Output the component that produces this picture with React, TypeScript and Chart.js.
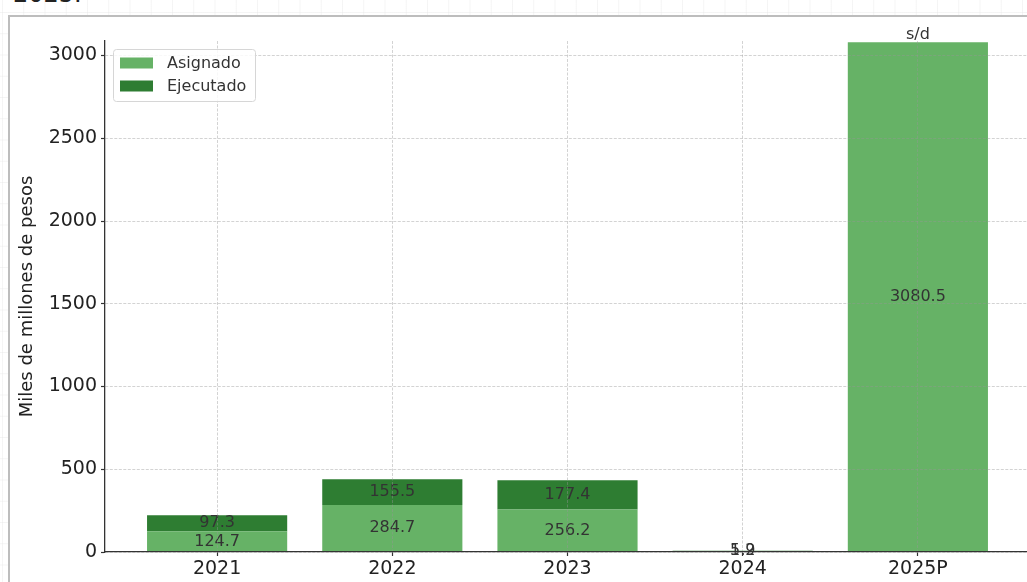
import React, { useEffect, useRef } from "react";
import { Chart, registerables } from "chart.js";

Chart.register(...registerables);

const categories = ["2021", "2022", "2023", "2024", "2025P"];
const asignado: number[] = [124.7, 284.7, 256.2, 5.9, 3080.5];
const ejecutado: (number | null)[] = [97.3, 155.5, 177.4, 1.2, null];
const yTickValues = [0, 500, 1000, 1500, 2000, 2500, 3000];
const seriesNames = ["Asignado", "Ejecutado"];
const seriesColors = ["#66b266", "#2e7d32"];
const missingLabel = "s/d";
const yTitle = "Miles de millones de pesos";
const headerText = "2025.";

const FONT = "'DejaVu Sans', sans-serif";

const valueLabelPlugin = {
  id: "valueLabels",
  afterDatasetsDraw(chart: any) {
    const ctx = chart.ctx;
    ctx.save();
    ctx.font = `16px ${FONT}`;
    ctx.fillStyle = "#333333";
    ctx.textAlign = "center";
    chart.data.datasets.forEach((ds: any, di: number) => {
      const meta = chart.getDatasetMeta(di);
      meta.data.forEach((el: any, i: number) => {
        const raw = ds.data[i];
        if (raw.y === null || raw.y === undefined) return;
        const p = el.getProps(["x", "y", "base"], true);
        ctx.textBaseline = "middle";
        ctx.fillText(raw.y.toFixed(1), p.x, (p.y + p.base) / 2);
      });
    });
    const first = chart.getDatasetMeta(0);
    ejecutado.forEach((v, i) => {
      if (v === null) {
        const el = first.data[i];
        const p = el.getProps(["x", "y"], true);
        ctx.textBaseline = "alphabetic";
        ctx.fillText(missingLabel, p.x, p.y - 3);
      }
    });
    ctx.restore();
  },
};

const legendPlugin = {
  id: "customLegend",
  afterDraw(chart: any) {
    const ctx = chart.ctx;
    const x = 113.5, y = 49.5, w = 142, h = 52, r = 3;
    ctx.save();
    ctx.beginPath();
    ctx.moveTo(x + r, y);
    ctx.lineTo(x + w - r, y);
    ctx.arcTo(x + w, y, x + w, y + r, r);
    ctx.lineTo(x + w, y + h - r);
    ctx.arcTo(x + w, y + h, x + w - r, y + h, r);
    ctx.lineTo(x + r, y + h);
    ctx.arcTo(x, y + h, x, y + h - r, r);
    ctx.lineTo(x, y + r);
    ctx.arcTo(x, y, x + r, y, r);
    ctx.closePath();
    ctx.fillStyle = "rgba(255,255,255,0.85)";
    ctx.fill();
    ctx.strokeStyle = "#d6d6d6";
    ctx.lineWidth = 1;
    ctx.stroke();
    ctx.font = `16px ${FONT}`;
    ctx.textAlign = "left";
    ctx.textBaseline = "middle";
    seriesNames.forEach((name, i) => {
      const cy = 63 + i * 23;
      ctx.fillStyle = seriesColors[i];
      ctx.fillRect(120, cy - 5.5, 33, 11);
      ctx.fillStyle = "#333333";
      ctx.fillText(name, 167, cy + 0.5);
    });
    ctx.restore();
  },
};

export default function App() {
  const canvasRef = useRef<HTMLCanvasElement | null>(null);

  useEffect(() => {
    const canvas = canvasRef.current;
    if (!canvas) return;
    const gridColor = "rgba(150,150,150,0.42)";
    const chart = new Chart(canvas, {
      type: "bar",
      data: {
        datasets: [
          {
            label: seriesNames[0],
            data: asignado.map((v, i) => ({ x: i, y: v })),
            backgroundColor: seriesColors[0],
            borderWidth: 0,
            categoryPercentage: 1,
            barPercentage: 0.8,
          },
          {
            label: seriesNames[1],
            data: ejecutado.map((v, i) => ({ x: i, y: v })),
            backgroundColor: seriesColors[1],
            borderWidth: 0,
            categoryPercentage: 1,
            barPercentage: 0.8,
          },
        ] as any,
      },
      options: {
        animation: false,
        responsive: false,
        maintainAspectRatio: false,
        layout: { padding: { left: 13, top: 41, right: 70, bottom: 0 } },
        plugins: {
          legend: { display: false },
          tooltip: { enabled: false },
          title: { display: false },
        },
        scales: {
          x: {
            type: "linear",
            min: -0.64,
            max: 4.64,
            offset: false,
            stacked: true,
            afterBuildTicks: (axis: any) => {
              axis.ticks = categories.map((_, i) => ({ value: i }));
            },
            afterFit: (s: any) => {
              s.height = 30;
            },
            ticks: {
              callback: (v: any) => categories[Math.round(Number(v))] ?? "",
              font: { family: FONT, size: 19 },
              color: "#222222",
              padding: 2,
              maxRotation: 0,
              autoSkip: false,
            },
            grid: {
              offset: false,
              color: gridColor,
              lineWidth: 1,
              z: 1,
              tickLength: 4,
              tickColor: "#333333",
              tickWidth: 1.2,
              tickBorderDash: [],
            },
            border: { color: "#333333", width: 1.3, dash: [3, 1.5], z: 1 },
          },
          y: {
            type: "linear",
            min: 0,
            max: 3088,
            stacked: true,
            afterBuildTicks: (axis: any) => {
              axis.ticks = yTickValues.map((v) => ({ value: v }));
            },
            afterFit: (s: any) => {
              s.width = 92;
            },
            ticks: {
              callback: (v: any) => String(v),
              font: { family: FONT, size: 19 },
              color: "#222222",
              padding: 4,
            },
            title: {
              display: true,
              text: yTitle,
              font: { family: FONT, size: 18 },
              color: "#222222",
              padding: 4,
            },
            grid: {
              color: gridColor,
              lineWidth: 1,
              z: 1,
              tickLength: 4,
              tickColor: "#333333",
              tickWidth: 1.2,
              tickBorderDash: [],
            },
            border: { color: "#333333", width: 1.3, dash: [3, 1.5], z: 1 },
          },
        },
      } as any,
      plugins: [valueLabelPlugin, legendPlugin],
    });
    return () => chart.destroy();
  }, []);

  return (
    <div
      style={{
        position: "fixed",
        left: 0,
        top: 0,
        width: 1027,
        height: 582,
        overflow: "hidden",
        backgroundColor: "#ffffff",
        backgroundImage:
          "linear-gradient(to right, rgba(232,232,232,0.45) 1px, transparent 1px), linear-gradient(to bottom, rgba(232,232,232,0.45) 1px, transparent 1px)",
        backgroundSize: "21.25px 21.25px",
        backgroundPosition: "2px 12px",
        fontFamily: FONT,
      }}
    >
      <div
        style={{
          position: "absolute",
          left: 13,
          top: -18,
          fontSize: 24,
          lineHeight: "24px",
          color: "#222222",
          whiteSpace: "nowrap",
        }}
      >
        {headerText}
      </div>
      <div
        style={{
          position: "absolute",
          left: 8,
          top: 15,
          width: 1100,
          height: 700,
          border: "2px solid #bdbdbd",
          background: "#ffffff",
        }}
      />
      <canvas
        ref={canvasRef}
        width={1100}
        height={582}
        style={{ position: "absolute", left: 0, top: 0, width: 1100, height: 582 }}
      />
    </div>
  );
}
